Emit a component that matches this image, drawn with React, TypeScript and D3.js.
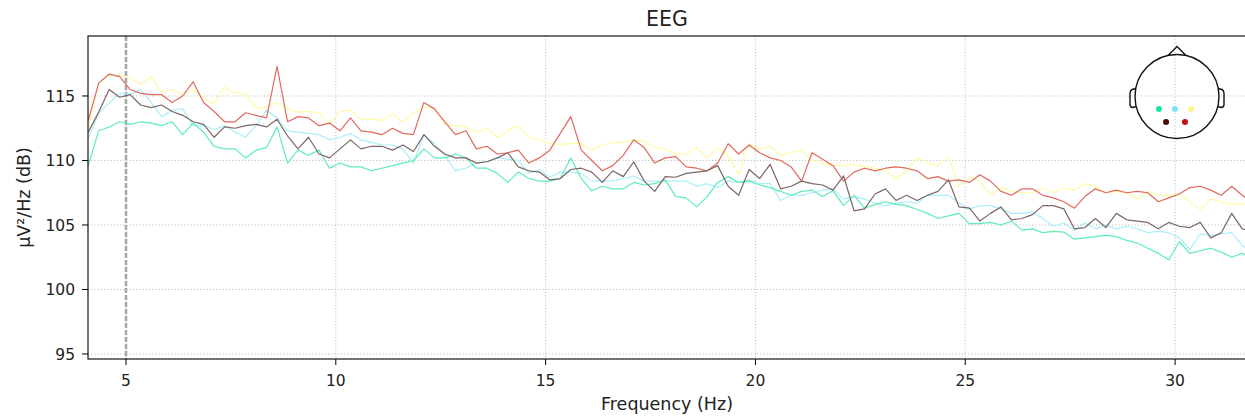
import React from "react";
import * as d3 from "d3";

// frequency grid of the PSD estimate (Hz)
const freqs = d3.range(112).map(i => +(4.1 + 0.25 * i).toFixed(2));

// PSD per channel, dB (µV²/Hz)
const psdRed = [113.1,116.0,116.7,116.5,115.5,115.2,115.1,115.1,114.5,115.0,
  116.1,114.5,113.8,113.0,113.0,113.7,113.5,113.3,117.3,113.0,
  113.4,113.3,112.7,112.9,112.3,113.3,112.3,112.2,112.0,112.5,
  112.1,112.0,114.5,114.0,113.0,112.0,112.3,110.9,111.1,110.5,
  110.6,110.8,109.8,110.2,110.8,112.1,113.4,110.8,110.0,109.2,
  109.6,110.4,111.6,111.0,109.8,110.2,110.3,109.5,109.4,109.2,
  109.8,111.3,110.5,111.2,110.6,110.2,110.0,109.5,108.4,110.6,
  110.1,109.6,108.4,109.1,109.4,109.2,109.4,109.5,109.4,109.2,
  108.6,108.75,108.4,108.5,108.3,108.9,108.4,107.6,107.3,107.8,
  107.8,107.3,107.1,106.8,106.3,107.2,107.8,107.5,107.7,107.5,
  107.6,107.5,106.8,107.1,107.4,107.9,108.0,107.7,107.3,108.0,
  107.3,106.7];

const psdYellow = [112.5,116.0,116.6,116.6,116.4,115.9,116.5,115.3,115.5,115.1,
  115.5,114.8,114.4,115.7,115.2,115.2,114.1,114.1,114.5,114.0,
  113.75,113.8,113.7,112.8,113.8,113.9,113.2,113.2,113.1,113.6,
  113.0,113.7,114.1,114.1,112.8,112.7,112.6,112.2,112.5,111.8,
  112.3,112.7,111.8,111.6,111.3,111.25,111.3,111.3,110.8,111.2,
  111.4,111.4,111.6,111.5,111.0,110.9,110.5,110.5,111.0,110.2,
  111.0,110.4,108.9,111.3,110.9,111.1,110.4,110.6,110.8,110.0,
  109.8,109.6,109.6,109.7,109.5,109.4,109.2,108.6,109.2,110.2,
  109.8,109.6,110.3,108.0,108.7,108.4,107.3,107.9,107.6,107.5,
  107.5,107.9,107.5,107.9,107.7,108.2,108.0,107.5,107.6,107.5,
  107.0,107.6,107.3,107.3,107.4,106.8,106.2,107.0,106.8,106.6,
  106.7,106.3];

const psdCyan = [111.7,113.7,114.45,115.2,115.15,115.5,114.5,113.4,113.9,114.0,
  112.7,112.7,112.4,112.7,112.2,111.8,112.7,113.9,113.3,112.3,
  112.2,112.1,112.0,111.6,111.8,112.1,111.6,111.4,111.2,111.2,
  110.9,109.8,112.0,111.3,110.4,109.2,109.4,109.8,109.9,110.2,
  110.1,110.0,109.0,109.3,108.7,109.1,109.1,109.0,108.4,108.4,
  108.4,108.6,108.8,108.4,108.4,108.4,108.4,108.4,108.0,108.2,
  107.9,108.4,108.3,108.5,108.2,108.2,106.9,107.3,107.3,107.5,
  107.7,107.8,107.0,107.2,107.0,106.7,106.5,106.7,106.8,106.7,
  107.3,107.3,107.3,106.7,106.25,106.5,106.5,106.25,105.9,105.9,
  106.0,105.5,104.9,105.15,104.6,105.15,104.7,105.0,104.7,104.9,
  104.7,104.4,104.5,104.4,104.0,103.1,104.3,104.2,104.3,104.4,
  103.4,103.0];

const psdGreen = [109.6,112.3,112.6,113.0,112.8,113.0,112.9,112.7,113.0,112.0,
  112.9,112.2,111.1,110.9,110.9,110.2,110.8,111.0,112.6,109.8,
  110.8,110.4,110.8,109.4,109.8,109.5,109.5,109.2,109.4,109.6,
  109.8,110.0,110.9,110.2,110.2,110.5,110.2,109.4,109.4,109.0,
  108.3,109.1,108.6,108.4,108.4,108.6,110.2,108.6,107.65,108.0,
  107.8,107.8,108.3,108.1,108.2,108.5,107.2,107.1,106.4,107.2,
  108.3,108.75,108.3,108.4,108.1,107.9,107.6,107.3,107.6,107.7,
  107.2,107.65,106.5,107.3,106.3,106.6,106.8,106.6,106.5,106.2,
  105.9,105.5,105.7,105.9,105.1,105.1,105.2,105.0,105.3,104.6,
  104.7,104.4,104.5,104.45,103.9,104.0,104.1,104.2,104.1,103.8,
  103.6,103.2,102.8,102.3,103.7,102.8,103.0,103.2,102.9,102.5,
  102.8,102.4];

const psdDark = [112.2,113.75,115.5,114.9,115.1,114.3,114.1,114.3,113.8,113.5,
  113.0,112.8,111.8,112.6,112.5,112.7,112.8,112.6,113.2,111.9,
  110.9,111.8,110.5,110.2,110.9,111.6,110.9,111.1,111.1,110.8,
  111.2,110.7,112.0,111.1,110.5,110.2,110.2,109.8,109.9,110.2,
  110.6,109.5,109.2,109.1,108.5,108.6,109.3,109.4,109.1,108.3,
  109.2,108.75,109.9,108.4,107.6,108.75,108.7,109.0,109.1,109.2,
  109.6,108.0,107.3,109.3,108.6,109.7,107.8,108.0,108.4,108.2,
  108.1,107.7,108.8,106.1,106.25,107.4,107.8,106.9,107.3,106.9,
  107.3,107.6,108.5,106.4,106.3,105.3,105.9,106.4,105.4,105.5,
  105.8,106.5,106.5,106.25,104.7,104.8,105.5,104.8,105.9,105.4,
  105.3,105.2,104.7,105.2,104.9,104.8,105.2,104.0,104.4,105.9,
  104.7,104.5];

const xTicks = [5, 10, 15, 20, 25, 30];
const yTicks = [95, 100, 105, 110, 115];

// channels: trace colour, sensor colour and sensor position on the head (unit radius)
const channels = [
  { values: psdYellow, line: "#fffaa6", dot: "#fff48c", pos: [0.33, -0.3] },
  { values: psdCyan, line: "#a9eefc", dot: "#80e2f6", pos: [-0.05, -0.3] },
  { values: psdGreen, line: "#5cedb6", dot: "#18e79b", pos: [-0.43, -0.3] },
  { values: psdRed, line: "#e06a5e", dot: "#c80c0c", pos: [0.19, -0.61] },
  { values: psdDark, line: "#7c6666", dot: "#4b0808", pos: [-0.26, -0.61] },
];

const W = 1245, H = 416;
const m = { left: 88, right: 1246, top: 36, bottom: 359 };
const font = "DejaVu Sans, sans-serif";

export default function App() {
  const x = d3.scaleLinear().domain([4.095, 31.69]).range([m.left, m.right]);
  const y = d3.scaleLinear().domain([94.61, 119.65]).range([m.bottom, m.top]);
  const line = d3.line<number>().x((_, i) => x(freqs[i])).y(d => y(d));

  // topomap inset
  const hx = 1177, hy = 96.5, hr = 42;

  return (
    <svg width={W} height={H} style={{ position: "absolute", left: 0, top: 0, background: "#fff" }}
      fontFamily={font}>
      <defs>
        <clipPath id="plot">
          <rect x={m.left} y={m.top} width={m.right - m.left} height={m.bottom - m.top} />
        </clipPath>
      </defs>
      {/* grid */}
      <g stroke="#b0b0b0" strokeWidth={0.9} strokeDasharray="1 2.2">
        {xTicks.map(t => <line key={"gx" + t} x1={x(t)} x2={x(t)} y1={m.top} y2={m.bottom} />)}
        {yTicks.map(t => <line key={"gy" + t} x1={m.left} x2={m.right} y1={y(t)} y2={y(t)} />)}
      </g>
      {/* 5 Hz marker */}
      <line x1={x(5)} x2={x(5)} y1={m.top} y2={m.bottom} stroke="#a8a8a8" strokeWidth={2.6}
        strokeDasharray="5 2" />
      <g clipPath="url(#plot)" fill="none" strokeWidth={1.2} strokeLinejoin="round">
        {channels.map((c, k) => <path key={k} d={line(c.values) || ""} stroke={c.line} />)}
      </g>
      {/* spines */}
      <g stroke="#000" strokeWidth={1.1} fill="none">
        <rect x={m.left} y={m.top} width={m.right - m.left} height={m.bottom - m.top} />
      </g>
      {/* x axis */}
      <g fontSize={15.5} fill="#222" textAnchor="middle">
        {xTicks.map(t => (
          <g key={"xt" + t}>
            <line x1={x(t)} x2={x(t)} y1={m.bottom} y2={m.bottom + 6} stroke="#000" />
            <text x={x(t)} y={386}>{t}</text>
          </g>
        ))}
      </g>
      <g fontSize={15.5} fill="#222" textAnchor="end">
        {yTicks.map(t => (
          <g key={"yt" + t}>
            <line x1={m.left - 6} x2={m.left} y1={y(t)} y2={y(t)} stroke="#000" />
            <text x={75} y={y(t) + 5.6}>{t}</text>
          </g>
        ))}
      </g>
      <text x={(m.left + m.right) / 2} y={410} textAnchor="middle" fontSize={17.5} fill="#222">
        Frequency (Hz)
      </text>
      <text transform={`translate(30,${(m.top + m.bottom) / 2}) rotate(-90)`} textAnchor="middle"
        fontSize={17.5} fill="#222">µV²/Hz (dB)</text>
      <text x={(m.left + m.right) / 2} y={26} textAnchor="middle" fontSize={20.5} fill="#222">EEG</text>
      {/* sensor topomap */}
      <g fill="none" stroke="#111" strokeWidth={1.4}>
        <circle cx={hx} cy={hy} r={hr} />
        <path d={`M${hx - 9},${hy - hr + 1} L${hx},${hy - hr - 8} L${hx + 9},${hy - hr + 1}`} />
        <path d={`M${hx - hr + 1},${hy - 8} L${hx - hr - 3},${hy - 7} Q${hx - hr - 5},${hy - 6} ${hx - hr - 5},${hy - 3}
          L${hx - hr - 5},${hy + 8} Q${hx - hr - 5},${hy + 11} ${hx - hr - 2},${hy + 11} L${hx - hr + 1},${hy + 10}`} />
        <path d={`M${hx + hr - 1},${hy - 8} L${hx + hr + 3},${hy - 7} Q${hx + hr + 5},${hy - 6} ${hx + hr + 5},${hy - 3}
          L${hx + hr + 5},${hy + 8} Q${hx + hr + 5},${hy + 11} ${hx + hr + 2},${hy + 11} L${hx + hr - 1},${hy + 10}`} />
      </g>
      {channels.map((c, k) => (
        <circle key={"s" + k} cx={hx + c.pos[0] * hr} cy={hy - c.pos[1] * hr} r={3} fill={c.dot} />
      ))}
    </svg>
  );
}
